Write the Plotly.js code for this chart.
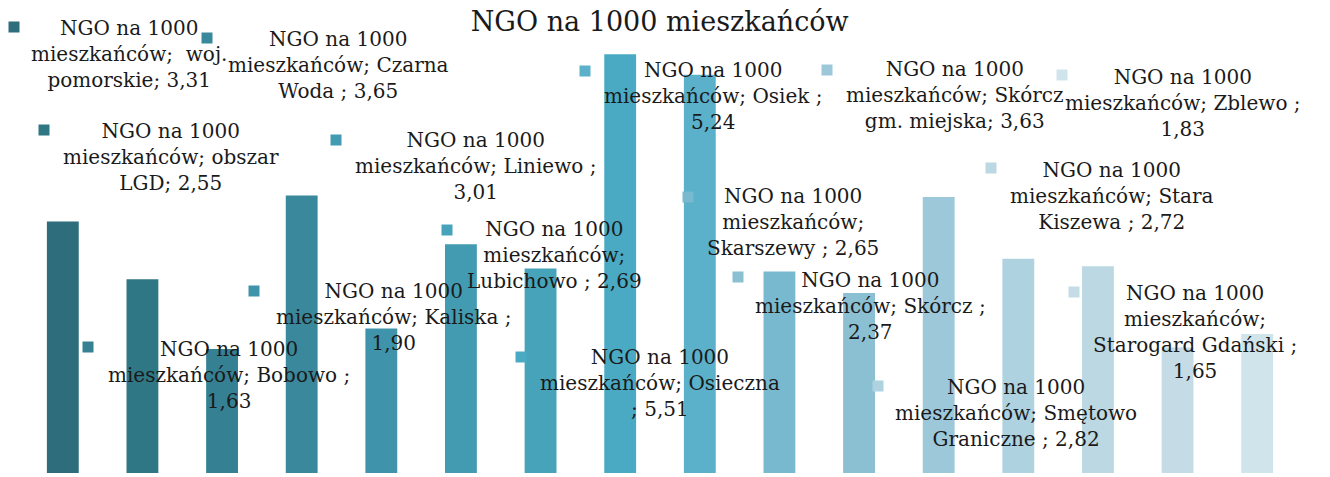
<!DOCTYPE html>
<html>
<head>
<meta charset="utf-8">
<script src="https://cdn.plot.ly/plotly-3.0.1.min.js"></script>
<style>html,body{margin:0;padding:0;background:#fff;}#chart{width:1330px;height:477px;}</style>
</head>
<body>
<div id="chart"></div>
<script>
// ---- data ----
const categories = ["woj. pomorskie", "obszar LGD", "Bobowo ", "Czarna Woda ", "Kaliska ", "Liniewo ", "Lubichowo ", "Osieczna ", "Osiek ", "Skarszewy ", "Skórcz ", "Skórcz gm. miejska", "Smętowo Graniczne ", "Stara Kiszewa ", "Starogard Gdański ", "Zblewo "];
const values = [3.31, 2.55, 1.63, 3.65, 1.90, 3.01, 2.69, 5.51, 5.24, 2.65, 2.37, 3.63, 2.82, 2.72, 1.65, 1.83];
const seriesName = "NGO na 1000 mieszkańców";
const barColors = ["#2D6D7C", "#307785", "#358193", "#3A889C", "#3F94AC", "#429BB1", "#46A3BA", "#4AAAC3", "#5BB0CA", "#78B9D0", "#8BBFD2", "#9DC8D9", "#AED2E0", "#BBD8E3", "#C5DCE7", "#D0E4EC"];
// line-break templates for each label ({v} = value)
const labelTemplates = [
  "NGO na 1000<br>mieszkańców;  woj.<br>pomorskie; {v}",
  "NGO na 1000<br>mieszkańców; obszar<br>LGD; {v}",
  "NGO na 1000<br>mieszkańców; Bobowo ;<br>{v}",
  "NGO na 1000<br>mieszkańców; Czarna<br>Woda ; {v}",
  "NGO na 1000<br>mieszkańców; Kaliska ;<br>{v}",
  "NGO na 1000<br>mieszkańców; Liniewo ;<br>{v}",
  "NGO na 1000<br>mieszkańców;<br>Lubichowo ; {v}",
  "NGO na 1000<br>mieszkańców; Osieczna<br>; {v}",
  "NGO na 1000<br>mieszkańców; Osiek ;<br>{v}",
  "NGO na 1000<br>mieszkańców;<br>Skarszewy ; {v}",
  "NGO na 1000<br>mieszkańców; Skórcz ;<br>{v}",
  "NGO na 1000<br>mieszkańców; Skórcz<br>gm. miejska; {v}",
  "NGO na 1000<br>mieszkańców; Smętowo<br>Graniczne ; {v}",
  "NGO na 1000<br>mieszkańców; Stara<br>Kiszewa ; {v}",
  "NGO na 1000<br>mieszkańców;<br>Starogard Gdański ;<br>{v}",
  "NGO na 1000<br>mieszkańców; Zblewo ;<br>{v}"
];

// ---- layout geometry (pixels) ----
const W = 1330, H = 477;
const plotL = 23, plotR = 1297, plotT = 17, plotB = 473;
const yMax = 6;
// label text centre [x, y] and marker centre [x, y] in pixels
const labelPos = [[129,54],[171,157],[229,375],[338,65],[393,317],[475,166],[554,255],[660,383],[714,96],[793,222],[870,306],[955,95],[1016,413],[1112,196],[1195,332],[1183,103]];
const markerPos = [[14,27],[44,130],[88,347],[207,38],[254,291],[336,140],[447,230],[521,357],[585,71],[688,197],[738,277],[827,70],[878,386],[991,168],[1074,292],[1062,75]];

const px2x = p => (p - plotL) / (plotR - plotL);
const px2y = p => (plotB - p) / (plotB - plotT);
const fmt = v => v.toFixed(2).replace('.', ',');
const font = "'DejaVu Serif', 'Liberation Serif', serif";

const annotations = labelTemplates.map((t, i) => ({
  xref: 'paper', yref: 'paper',
  x: px2x(labelPos[i][0]), y: px2y(labelPos[i][1]),
  xanchor: 'center', yanchor: 'middle',
  text: t.replace('{v}', fmt(values[i])),
  showarrow: false, align: 'center',
  font: {family: font, size: 20, color: '#1a1a1a'}
}));
const sq = 5.5;
const shapes = markerPos.map((m, i) => ({
  type: 'rect', xref: 'paper', yref: 'paper',
  x0: px2x(m[0]-sq), x1: px2x(m[0]+sq), y0: px2y(m[1]+sq), y1: px2y(m[1]-sq),
  fillcolor: barColors[i], line: {width: 0}, layer: 'above'
}));

const trace = {
  type: 'bar', x: categories, y: values, name: seriesName,
  marker: {color: barColors, line: {width: 0}},
  hoverinfo: 'none'
};
const layout = {
  width: W, height: H,
  margin: {l: plotL, r: W - plotR, t: plotT, b: H - plotB, pad: 0},
  paper_bgcolor: '#fff', plot_bgcolor: '#fff',
  showlegend: false, bargap: 0.6,
  title: {text: seriesName, x: 0.496, xanchor: 'center', y: 0.955, yanchor: 'middle',
          font: {family: font, size: 27, color: '#1a1a1a'}},
  xaxis: {visible: false, range: [-0.5, categories.length - 0.5]},
  yaxis: {visible: false, range: [0, yMax]},
  annotations: annotations, shapes: shapes
};
Plotly.newPlot('chart', [trace], layout, {staticPlot: true, displayModeBar: false});
</script>
</body>
</html>
